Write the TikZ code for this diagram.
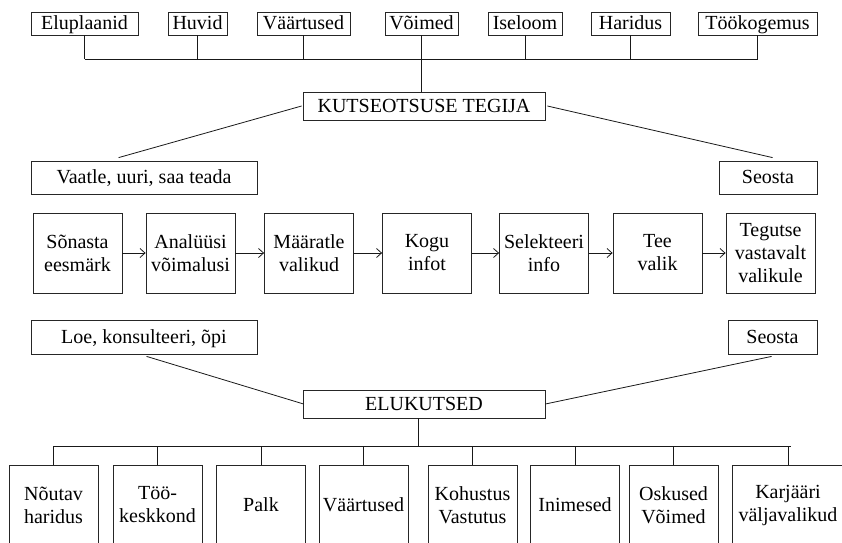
\documentclass[tikz,border=0pt]{standalone}
\usepackage{fontspec}
\setmainfont{Liberation Serif}
\usetikzlibrary{arrows.meta}
\begin{document}
\begin{tikzpicture}[x=1pt,y=-1pt,
  every node/.style={font=\fontsize{20}{23}\selectfont},
  sbox/.style={draw=black!85, line width=0.8pt, inner sep=0pt, text height=14pt, text depth=2pt},
  mbox/.style={draw=black!85, line width=0.8pt, inner sep=0pt, align=center, minimum width=89pt, minimum height=80pt},
  conn/.style={line width=0.8pt, draw=black!90},
  arr/.style={conn, -{Straight Barb[length=5pt,width=9pt]}}
]
\useasboundingbox (0,0) rectangle (842,542);
\fill[white] (0,0) rectangle (842,542);
% top row
\node[sbox, minimum width=107pt, minimum height=23pt] (t1) at (84.5,23.5) {Eluplaanid};
\node[sbox, minimum width=59pt, minimum height=23pt] (t2) at (197.5,23.5) {Huvid};
\node[sbox, minimum width=93pt, minimum height=23pt] (t3) at (303.5,23.5) {Väärtused};
\node[sbox, minimum width=73pt, minimum height=23pt] (t4) at (421.5,23.5) {Võimed};
\node[sbox, minimum width=74pt, minimum height=23pt] (t5) at (525,23.5) {Iseloom};
\node[sbox, minimum width=79pt, minimum height=23pt] (t6) at (630.5,23.5) {Haridus};
\node[sbox, minimum width=119pt, minimum height=23pt] (t7) at (757.5,23.5) {Töökogemus};
\coordinate (busT) at (0,59);
\foreach \n in {t1,t2,t3,t4,t5,t6,t7}{\draw[conn] (\n.south) -- (\n.south |- busT);}
\draw[conn] (t1.south |- busT) -- (t7.south |- busT);
% KUTSEOTSUSE TEGIJA
\node[sbox, minimum width=242pt, minimum height=28pt] (kt) at (424,106) {KUTSEOTSUSE TEGIJA};
\draw[conn] (t4.south) -- (t4.south |- kt.north);
\node[sbox, minimum width=226pt, minimum height=33pt] (va) at (144,177.5) {Vaatle, uuri, saa teada};
\node[sbox, minimum width=98pt, minimum height=33pt] (s1) at (768,177.5) {Seosta};
\draw[conn] ([xshift=-1pt]kt.west) -- ([xshift=88pt,yshift=3pt]va.north west);
\draw[conn] ([xshift=2pt]kt.east) -- ([xshift=54pt,yshift=3pt]s1.north west);
% process row
\node[mbox] (p1) at (77.5,253) {Sõnasta\\eesmärk};
\node[mbox] (p2) at (190.5,253) {Analüüsi\\võimalusi};
\node[mbox] (p3) at (309,253) {Määratle\\valikud};
\node[mbox] (p4) at (427,253) {Kogu\\infot};
\node[mbox] (p5) at (544,253) {Selekteeri\\info};
\node[mbox] (p6) at (657.5,253) {Tee\\valik};
\node[mbox] (p7) at (770.5,253) {Tegutse\\vastavalt\\valikule};
\draw[arr] (p1.east) -- (p2.west);
\draw[arr] (p2.east) -- (p3.west);
\draw[arr] (p3.east) -- (p4.west);
\draw[arr] (p4.east) -- (p5.west);
\draw[arr] (p5.east) -- (p6.west);
\draw[arr] (p6.east) -- (p7.west);
% lower part
\node[sbox, minimum width=226pt, minimum height=34pt] (lo) at (144,337) {Loe, konsulteeri, õpi};
\node[sbox, minimum width=89pt, minimum height=34pt] (s2) at (772.5,337) {Seosta};
\node[sbox, minimum width=242pt, minimum height=28pt] (el) at (424,404) {ELUKUTSED};
\draw[conn] ([xshift=116pt,yshift=-2pt]lo.south west) -- ([xshift=1pt]el.west);
\draw[conn] (el.east) -- ([xshift=44pt,yshift=-2pt]s2.south west);
\coordinate (busB) at (0,446);
% bottom row
\node[mbox] (b1) at (53.5,505) {Nõutav\\haridus};
\node[mbox] (b2) at (157.5,505) {Töö-\\keskkond};
\node[mbox] (b3) at (261,505) {Palk};
\node[mbox] (b4) at (363.5,505) {Väärtused};
\node[mbox] (b5) at (472.5,505) {Kohustus\\Vastutus};
\node[mbox] (b6) at (575,505) {Inimesed};
\node[mbox] (b7) at (673.5,505) {Oskused\\Võimed};
\node[mbox, minimum width=112pt] (b8) at (788,505) {Karjääri\\väljavalikud};
\draw[conn] ([xshift=-6pt]el.south) -- ([xshift=-6pt]el.south |- busB);
\draw[conn] (b1.north |- busB) -- ([xshift=3pt]b8.north |- busB);
\foreach \n in {b1,b2,b3,b4,b5,b6,b7,b8}{\draw[conn] (\n.north |- busB) -- (\n.north);}
\end{tikzpicture}
\end{document}
